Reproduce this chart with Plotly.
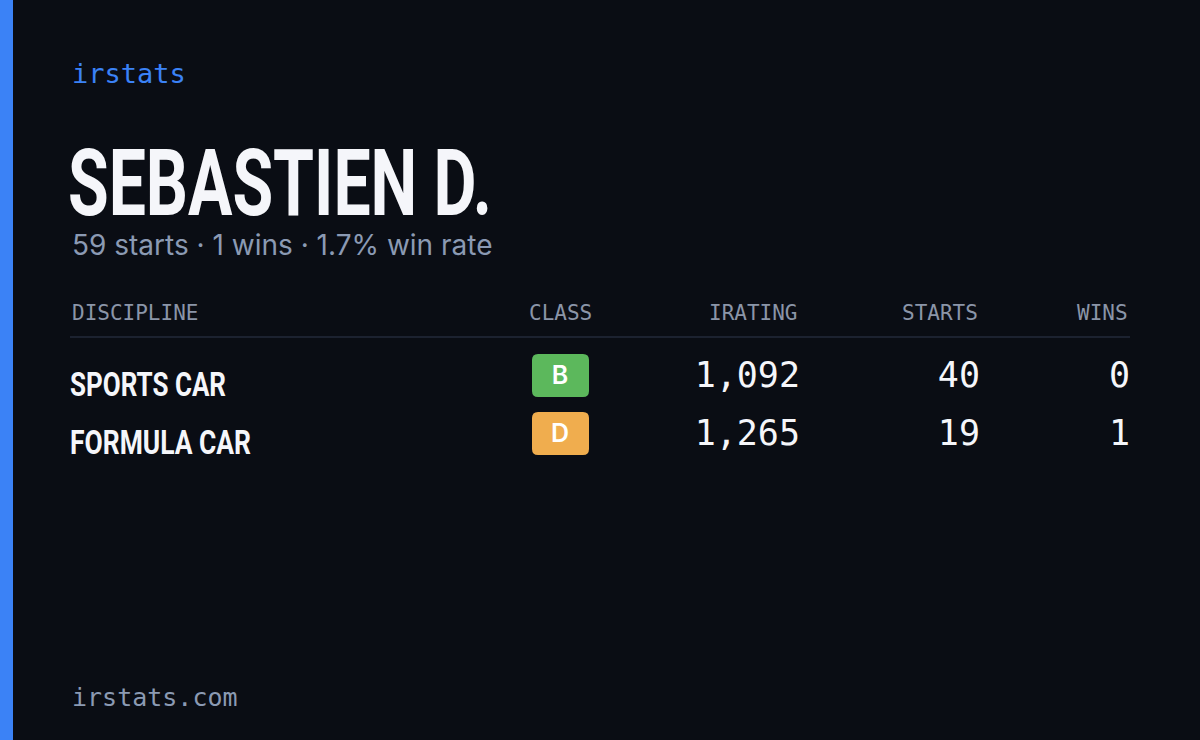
import plotly.graph_objects as go

disciplines = ["SPORTS CAR", "FORMULA CAR"]
classes = ["B", "D"]
iratings = [1092, 1265]
starts = [40, 19]
wins = [0, 1]
driver = "SEBASTIEN D."

class_colors = {"B": "#5cb85c", "D": "#f0ad4e"}
bg = "#0a0d14"
blue = "#3b82f6"
muted = "#8b9ab3"
mono = "DejaVu Sans Mono, monospace"
cond = "Roboto, sans-serif"

total_starts = sum(starts)
total_wins = sum(wins)
rate = 100 * total_wins / total_starts

row_y = [378, 436]

fig = go.Figure()

# driver name
fig.add_trace(go.Scatter(x=[68], y=[192], mode="text", text=[driver], textposition="middle right",
                         textfont=dict(family=cond, size=92, color="#f5f6fa", weight=700)))
# discipline names
fig.add_trace(go.Scatter(x=[70] * len(disciplines), y=[y + 9 for y in row_y], mode="text",
                         text=disciplines, textposition="middle right",
                         textfont=dict(family=cond, size=34, color="#f5f6fa", weight=700)))
# class letters
fig.add_trace(go.Scatter(x=[560] * len(classes), y=row_y, mode="text",
                         text=classes, textposition="middle center",
                         textfont=dict(family="Inter, sans-serif", size=25, color="white", weight=600)))
for col_x, vals in [(800, [f"{v:,}" for v in iratings]), (980, [str(v) for v in starts]),
                    (1130, [str(v) for v in wins])]:
    fig.add_trace(go.Scatter(x=[col_x] * len(vals), y=row_y, mode="text", text=vals,
                             textposition="middle left",
                             textfont=dict(family=mono, size=35, color="#f5f6fa")))

shapes = [
    dict(type="rect", x0=0, x1=13, y0=0, y1=740, fillcolor=blue, line_width=0),
    dict(type="line", x0=70, x1=1130, y0=337, y1=337, line=dict(color="#1c2230", width=2)),
]
for c, y in zip(classes, row_y):
    x0, x1, y0, y1, r = 532, 589, y - 24, y + 19, 6
    path = (f"M{x0+r},{y0} L{x1-r},{y0} Q{x1},{y0} {x1},{y0+r} L{x1},{y1-r} Q{x1},{y1} {x1-r},{y1} "
            f"L{x0+r},{y1} Q{x0},{y1} {x0},{y1-r} L{x0},{y0+r} Q{x0},{y0} {x0+r},{y0} Z")
    shapes.append(dict(type="path", path=path, fillcolor=class_colors[c], line_width=0, layer="below"))

ann = [
    dict(x=70, y=73, text="irstats", xanchor="left", font=dict(family=mono, size=27, color=blue)),
    dict(x=70, y=245, text=f"{total_starts} starts · {total_wins} wins · {rate:.1f}% win rate",
         xanchor="left", font=dict(family="Inter, sans-serif", size=28, color=muted)),
    dict(x=70, y=697, text="irstats.com", xanchor="left", font=dict(family=mono, size=25, color=muted)),
]
headers = [("DISCIPLINE", 70, "left"), ("CLASS", 560, "center"), ("IRATING", 800, "right"),
           ("STARTS", 980, "right"), ("WINS", 1130, "right")]
for h, x, a in headers:
    ann.append(dict(x=x, y=313, text=h, xanchor=a, font=dict(family=mono, size=21, color="#8b95a8")))
for a in ann:
    a.update(xref="x", yref="y", showarrow=False, yanchor="middle")

fig.update_layout(width=1200, height=740, margin=dict(l=0, r=0, t=0, b=0),
                  paper_bgcolor=bg, plot_bgcolor=bg, showlegend=False,
                  shapes=shapes, annotations=ann,
                  xaxis=dict(range=[0, 1200], visible=False, fixedrange=True),
                  yaxis=dict(range=[740, 0], visible=False, fixedrange=True))

# squeeze the bold texts to a condensed width, no condensed font is installed
widths = {driver: 424, "SPORTS CAR": 156, "FORMULA CAR": 181}
post = """
document.body.style.margin = '0';
document.body.style.background = '%s';
var W = %s;
document.querySelectorAll('text').forEach(function(t) {
  var s = t.textContent;
  if (W[s] !== undefined) {
    t.setAttribute('textLength', W[s]);
    t.setAttribute('lengthAdjust', 'spacingAndGlyphs');
  }
});
""" % (bg, str(widths).replace("'", '"'))
fig.write_html("out.html", config={"displayModeBar": False}, post_script=post)
